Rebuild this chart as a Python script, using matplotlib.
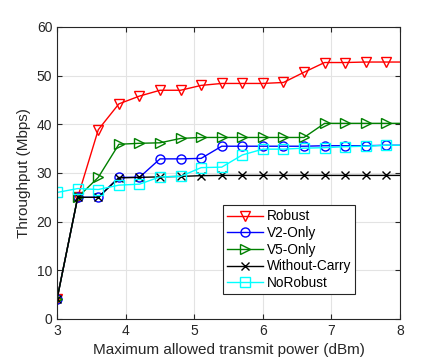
import matplotlib.pyplot as plt

plt.rcParams['font.family'] = ['Liberation Sans', 'DejaVu Sans']

power = [3.0, 3.3, 3.6, 3.9, 4.2, 4.5, 4.8, 5.1, 5.4, 5.7, 6.0, 6.3, 6.6, 6.9, 7.2, 7.5, 7.8, 8.1]

robust = [4.2, 25.0, 38.9, 44.2, 45.8, 47.0, 47.0, 48.0, 48.4, 48.4, 48.4, 48.6, 50.7, 52.7, 52.7, 52.8, 52.8, 52.8]
v2_only = [4.2, 25.0, 25.0, 29.1, 29.1, 32.9, 32.9, 33.0, 35.5, 35.5, 35.5, 35.5, 35.5, 35.6, 35.6, 35.6, 35.7, 35.7]
v5_only = [4.2, 25.0, 29.1, 35.9, 36.1, 36.2, 37.1, 37.3, 37.3, 37.3, 37.3, 37.3, 37.3, 40.2, 40.2, 40.2, 40.2, 40.2]
without_carry = [4.2, 25.0, 25.0, 29.0, 29.1, 29.2, 29.3, 29.45, 29.5, 29.5, 29.5, 29.5, 29.5, 29.5, 29.5, 29.5, 29.5, 29.5]
no_robust = [26.0, 26.8, 26.6, 27.5, 27.7, 29.2, 29.3, 31.1, 31.2, 33.7, 34.9, 34.9, 35.1, 35.2, 35.4, 35.5, 35.7, 35.7]

series = [
    ('Robust', robust, 'red', 'v'),
    ('V2-Only', v2_only, 'blue', 'o'),
    ('V5-Only', v5_only, 'green', '>'),
    ('Without-Carry', without_carry, 'black', 'x'),
    ('NoRobust', no_robust, 'cyan', 's'),
]

fig = plt.figure(figsize=(4.43, 3.6), dpi=100)
ax = fig.add_axes([0.129, 0.114, 0.774, 0.811])

for name, vals, col, mk in series:
    ax.plot(power, vals, color=col, marker=mk, markersize=6.5 if mk != 'x' else 5.5,
            markerfacecolor='none', markeredgecolor=col, markeredgewidth=1.0,
            linewidth=1.0, label=name)

ax.set_xlim(3, 8)
ax.set_ylim(0, 60)
ax.set_xticks([3, 4, 5, 6, 7, 8])
ax.set_yticks([0, 10, 20, 30, 40, 50, 60])
ax.grid(True, color='#e3e3e3', linewidth=0.8)
ax.set_axisbelow(True)
ax.tick_params(direction='in', length=3.5, labelsize=10, colors='#262626', top=True, right=True)
for s in ax.spines.values():
    s.set_color('#262626')
    s.set_linewidth(0.8)
ax.set_xlabel('Maximum allowed transmit power (dBm)', fontsize=11, color='#262626')
ax.set_ylabel('Throughput (Mbps)', fontsize=11, color='#262626')

leg = ax.legend(loc='upper left', bbox_to_anchor=(0.465, 0.413), fontsize=9.8,
                fancybox=False, edgecolor='#262626', framealpha=1,
                handlelength=2.6, handletextpad=0.3, labelspacing=0.2, borderpad=0.3)
leg.get_frame().set_linewidth(0.8)

fig.savefig('out.png', dpi=100)
